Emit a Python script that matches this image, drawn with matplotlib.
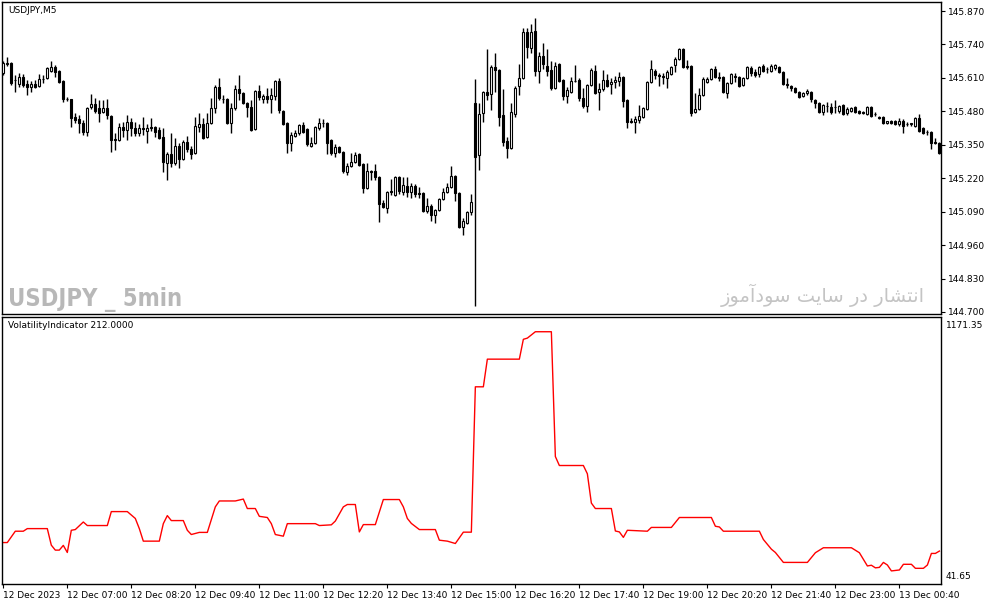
import matplotlib
matplotlib.use('Agg')
import matplotlib.pyplot as plt
import numpy as np

# USDJPY M5 candles
opens = [
    145.629, 145.664, 145.668, 145.602, 145.586, 145.613, 145.586, 145.575, 145.586, 145.578,
    145.606, 145.610, 145.637, 145.652, 145.637, 145.598, 145.528, 145.528, 145.458, 145.450,
    145.435, 145.400, 145.497, 145.508, 145.493, 145.477, 145.493, 145.462, 145.372, 145.368,
    145.419, 145.407, 145.438, 145.415, 145.396, 145.415, 145.403, 145.419, 145.419, 145.407,
    145.380, 145.279, 145.314, 145.279, 145.345, 145.294, 145.361, 145.333, 145.318, 145.419,
    145.431, 145.380, 145.435, 145.493, 145.575, 145.528, 145.528, 145.435, 145.493, 145.567,
    145.551, 145.512, 145.497, 145.411, 145.559, 145.528, 145.540, 145.528, 145.540, 145.598,
    145.481, 145.435, 145.357, 145.384, 145.396, 145.427, 145.411, 145.345, 145.357, 145.415,
    145.435, 145.435, 145.368, 145.318, 145.341, 145.322, 145.244, 145.267, 145.283, 145.314,
    145.275, 145.182, 145.248, 145.248, 145.224, 145.123, 145.104, 145.170, 145.154, 145.224,
    145.166, 145.189, 145.166, 145.189, 145.162, 145.162, 145.092, 145.112, 145.077, 145.096,
    145.139, 145.166, 145.186, 145.228, 145.162, 145.030, 145.046, 145.088, 145.512, 145.310,
    145.473, 145.555, 145.547, 145.652, 145.641, 145.466, 145.365, 145.337, 145.470, 145.578,
    145.610, 145.789, 145.726, 145.792, 145.637, 145.695, 145.656, 145.641, 145.571, 145.664,
    145.602, 145.540, 145.555, 145.598, 145.602, 145.532, 145.501, 145.582, 145.637, 145.555,
    145.567, 145.602, 145.586, 145.594, 145.598, 145.613, 145.524, 145.442, 145.438, 145.446,
    145.458, 145.489, 145.594, 145.637, 145.621, 145.617, 145.610, 145.625, 145.660, 145.683,
    145.722, 145.656, 145.656, 145.477, 145.489, 145.543, 145.594, 145.606, 145.645, 145.613,
    145.613, 145.551, 145.590, 145.617, 145.613, 145.582, 145.610, 145.648, 145.633, 145.625,
    145.656, 145.645, 145.637, 145.648, 145.652, 145.633, 145.586, 145.578, 145.571, 145.555,
    145.540, 145.551, 145.555, 145.524, 145.512, 145.477, 145.501, 145.497, 145.497, 145.481,
    145.505, 145.473, 145.481, 145.497, 145.481, 145.477, 145.470, 145.497, 145.470, 145.458,
    145.458, 145.435, 145.442, 145.442, 145.431, 145.442, 145.431, 145.431, 145.423, 145.454,
    145.415, 145.400, 145.400, 145.361, 145.357,
]
highs = [
    145.676, 145.691, 145.672, 145.621, 145.629, 145.625, 145.602, 145.598, 145.602, 145.625,
    145.621, 145.652, 145.676, 145.660, 145.641, 145.602, 145.536, 145.528, 145.473, 145.466,
    145.446, 145.497, 145.547, 145.532, 145.524, 145.524, 145.528, 145.466, 145.396, 145.435,
    145.438, 145.466, 145.454, 145.438, 145.431, 145.458, 145.431, 145.454, 145.423, 145.419,
    145.415, 145.322, 145.396, 145.376, 145.357, 145.368, 145.384, 145.345, 145.458, 145.473,
    145.454, 145.473, 145.532, 145.582, 145.610, 145.543, 145.532, 145.512, 145.582, 145.621,
    145.555, 145.516, 145.524, 145.563, 145.582, 145.547, 145.571, 145.571, 145.602, 145.610,
    145.485, 145.438, 145.400, 145.407, 145.431, 145.438, 145.415, 145.380, 145.423, 145.454,
    145.450, 145.438, 145.372, 145.353, 145.345, 145.326, 145.279, 145.318, 145.322, 145.318,
    145.279, 145.279, 145.252, 145.275, 145.228, 145.135, 145.170, 145.217, 145.228, 145.228,
    145.224, 145.224, 145.201, 145.197, 145.186, 145.166, 145.143, 145.119, 145.100, 145.143,
    145.182, 145.201, 145.267, 145.232, 145.166, 145.065, 145.092, 145.158, 145.606, 145.512,
    145.559, 145.722, 145.660, 145.707, 145.645, 145.567, 145.380, 145.512, 145.578, 145.664,
    145.804, 145.804, 145.820, 145.843, 145.711, 145.746, 145.722, 145.676, 145.672, 145.668,
    145.606, 145.575, 145.613, 145.660, 145.610, 145.571, 145.586, 145.648, 145.660, 145.590,
    145.641, 145.625, 145.610, 145.617, 145.633, 145.617, 145.528, 145.454, 145.462, 145.505,
    145.497, 145.598, 145.680, 145.645, 145.629, 145.629, 145.641, 145.656, 145.691, 145.726,
    145.726, 145.680, 145.660, 145.551, 145.571, 145.613, 145.613, 145.648, 145.656, 145.633,
    145.617, 145.594, 145.629, 145.629, 145.617, 145.613, 145.656, 145.656, 145.645, 145.656,
    145.664, 145.652, 145.664, 145.664, 145.656, 145.637, 145.610, 145.582, 145.575, 145.559,
    145.555, 145.567, 145.559, 145.528, 145.516, 145.508, 145.516, 145.512, 145.524, 145.505,
    145.508, 145.497, 145.497, 145.501, 145.485, 145.481, 145.501, 145.501, 145.477, 145.462,
    145.462, 145.442, 145.446, 145.446, 145.454, 145.450, 145.438, 145.435, 145.458, 145.470,
    145.419, 145.407, 145.403, 145.376, 145.361,
]
lows = [
    145.621, 145.656, 145.582, 145.555, 145.575, 145.575, 145.543, 145.555, 145.571, 145.575,
    145.590, 145.606, 145.633, 145.613, 145.590, 145.516, 145.520, 145.419, 145.435, 145.396,
    145.388, 145.384, 145.489, 145.473, 145.438, 145.473, 145.450, 145.322, 145.329, 145.365,
    145.380, 145.368, 145.384, 145.384, 145.384, 145.388, 145.357, 145.403, 145.380, 145.372,
    145.244, 145.213, 145.263, 145.271, 145.259, 145.291, 145.322, 145.294, 145.314, 145.400,
    145.372, 145.376, 145.431, 145.473, 145.524, 145.512, 145.431, 145.396, 145.485, 145.524,
    145.508, 145.458, 145.403, 145.407, 145.524, 145.512, 145.512, 145.473, 145.524, 145.473,
    145.427, 145.318, 145.326, 145.380, 145.388, 145.396, 145.345, 145.341, 145.353, 145.407,
    145.419, 145.314, 145.310, 145.302, 145.318, 145.240, 145.232, 145.263, 145.279, 145.267,
    145.162, 145.178, 145.213, 145.213, 145.049, 145.104, 145.084, 145.154, 145.151, 145.158,
    145.154, 145.147, 145.143, 145.147, 145.143, 145.088, 145.084, 145.053, 145.046, 145.092,
    145.135, 145.162, 145.182, 145.131, 145.026, 144.999, 145.042, 145.077, 144.723, 145.252,
    145.438, 145.524, 145.485, 145.555, 145.423, 145.345, 145.298, 145.333, 145.458, 145.543,
    145.606, 145.687, 145.707, 145.617, 145.590, 145.645, 145.617, 145.563, 145.567, 145.594,
    145.524, 145.512, 145.551, 145.594, 145.520, 145.493, 145.477, 145.578, 145.547, 145.485,
    145.559, 145.575, 145.547, 145.571, 145.578, 145.497, 145.415, 145.435, 145.396, 145.435,
    145.454, 145.485, 145.590, 145.606, 145.578, 145.586, 145.571, 145.621, 145.633, 145.680,
    145.648, 145.645, 145.462, 145.473, 145.485, 145.540, 145.590, 145.602, 145.610, 145.598,
    145.551, 145.532, 145.586, 145.594, 145.575, 145.578, 145.606, 145.617, 145.613, 145.613,
    145.633, 145.629, 145.633, 145.641, 145.629, 145.582, 145.571, 145.559, 145.551, 145.532,
    145.536, 145.543, 145.516, 145.493, 145.473, 145.466, 145.477, 145.470, 145.473, 145.473,
    145.466, 145.466, 145.477, 145.473, 145.470, 145.470, 145.466, 145.458, 145.462, 145.450,
    145.431, 145.431, 145.431, 145.427, 145.423, 145.396, 145.423, 145.423, 145.419, 145.400,
    145.392, 145.388, 145.333, 145.353, 145.314,
]
closes = [
    145.668, 145.668, 145.590, 145.600, 145.613, 145.582, 145.575, 145.586, 145.575, 145.606,
    145.604, 145.648, 145.652, 145.633, 145.594, 145.528, 145.526, 145.454, 145.446, 145.435,
    145.400, 145.493, 145.508, 145.481, 145.473, 145.493, 145.466, 145.368, 145.370, 145.419,
    145.407, 145.438, 145.415, 145.396, 145.415, 145.413, 145.415, 145.417, 145.400, 145.376,
    145.283, 145.314, 145.279, 145.345, 145.294, 145.361, 145.333, 145.314, 145.423, 145.431,
    145.376, 145.435, 145.493, 145.575, 145.532, 145.526, 145.435, 145.493, 145.567, 145.551,
    145.512, 145.497, 145.407, 145.559, 145.536, 145.540, 145.528, 145.543, 145.598, 145.485,
    145.431, 145.357, 145.388, 145.396, 145.427, 145.400, 145.353, 145.357, 145.419, 145.435,
    145.433, 145.357, 145.318, 145.341, 145.322, 145.248, 145.267, 145.283, 145.310, 145.271,
    145.182, 145.248, 145.246, 145.224, 145.119, 145.108, 145.166, 145.168, 145.224, 145.170,
    145.193, 145.166, 145.189, 145.158, 145.160, 145.092, 145.112, 145.077, 145.096, 145.139,
    145.166, 145.186, 145.228, 145.162, 145.030, 145.053, 145.088, 145.127, 145.302, 145.470,
    145.555, 145.543, 145.652, 145.641, 145.458, 145.361, 145.337, 145.477, 145.571, 145.610,
    145.789, 145.730, 145.789, 145.637, 145.695, 145.664, 145.637, 145.571, 145.656, 145.598,
    145.540, 145.563, 145.598, 145.596, 145.532, 145.501, 145.582, 145.641, 145.551, 145.567,
    145.602, 145.578, 145.594, 145.602, 145.613, 145.520, 145.438, 145.440, 145.450, 145.462,
    145.493, 145.594, 145.645, 145.621, 145.619, 145.615, 145.633, 145.652, 145.683, 145.722,
    145.652, 145.654, 145.473, 145.489, 145.543, 145.606, 145.606, 145.645, 145.613, 145.611,
    145.555, 145.590, 145.625, 145.615, 145.578, 145.610, 145.652, 145.629, 145.621, 145.652,
    145.637, 145.643, 145.656, 145.660, 145.633, 145.586, 145.584, 145.571, 145.555, 145.536,
    145.551, 145.559, 145.528, 145.512, 145.477, 145.505, 145.499, 145.477, 145.495, 145.501,
    145.470, 145.489, 145.493, 145.477, 145.473, 145.473, 145.497, 145.462, 145.468, 145.454,
    145.435, 145.442, 145.435, 145.431, 145.442, 145.423, 145.429, 145.433, 145.454, 145.403,
    145.396, 145.398, 145.357, 145.357, 145.318,
]

# volatility indicator, vertices (bar index, value)
vol_bars = [0, 1, 3, 5, 6, 11, 12, 13, 14, 15, 16, 17, 18, 20, 21, 26, 27, 31, 33, 34,
            35, 39, 40, 41, 42, 45, 46, 47, 49, 51, 53, 54, 58, 60, 61, 63, 64, 66, 67, 68,
            70, 71, 78, 79, 82, 83, 85, 86, 88, 89, 90, 93, 95, 99, 100, 101, 102, 104, 108, 109,
            111, 113, 115, 117, 118, 120, 121, 129, 130, 131, 133, 137, 138, 139, 145, 146, 147, 148, 152, 153,
            154, 155, 156, 161, 162, 167, 169, 177, 178, 179, 180, 189, 190, 192, 193, 195, 201, 203, 205, 212,
            214, 216, 217, 218, 219, 220, 221, 222, 224, 225, 227, 228, 230, 231, 232, 233, 234]
vol_vals = [217, 217, 265, 265, 276, 276, 206, 185, 185, 205, 175, 269, 272, 304, 289, 289, 348, 348, 319, 276,
            223, 223, 297, 331, 310, 310, 269, 251, 260, 260, 368, 393, 393, 401, 361, 361, 328, 323, 297, 251,
            244, 297, 297, 289, 292, 308, 368, 378, 378, 262, 293, 293, 399, 399, 368, 319, 298, 272, 272, 227,
            223, 213, 261, 261, 876, 876, 993, 993, 1077, 1082, 1109, 1109, 581, 543, 543, 508, 384, 361, 361, 266,
            262, 239, 269, 265, 281, 281, 323, 323, 286, 283, 265, 265, 230, 189, 175, 133, 133, 174, 195, 195,
            174, 118, 121, 110, 112, 133, 122, 97, 101, 125, 125, 108, 108, 122, 171, 171, 181]

price_ticks = [145.870, 145.740, 145.610, 145.480, 145.350, 145.220, 145.090, 144.960, 144.830, 144.700]
time_bars = [0, 16, 32, 48, 64, 80, 96, 112, 128, 144, 160, 176, 192, 208, 224]
time_labels = ['12 Dec 2023', '12 Dec 07:00', '12 Dec 08:20', '12 Dec 09:40', '12 Dec 11:00',
               '12 Dec 12:20', '12 Dec 13:40', '12 Dec 15:00', '12 Dec 16:20', '12 Dec 17:40',
               '12 Dec 19:00', '12 Dec 20:20', '12 Dec 21:40', '12 Dec 23:00', '13 Dec 00:40']
vol_max = 1171.35
vol_min = 41.65

# Persian watermark "انتشار در سایت سودآموز", written in visual order with
# presentation forms since matplotlib does no Arabic shaping
fa_text = ('\uFEAF\uFEEE\uFEE3\uFE81\uFEA9\uFEEE\uFEB3 '
           '\uFE96\uFBFE\uFE8E\uFEB3 '
           '\uFEAD\uFEA9 '
           '\uFEAD\uFE8E\uFEB8\uFE98\uFEE7\uFE8D')

W, H = 987, 605
fig = plt.figure(figsize=(W / 100, H / 100), dpi=100)
fig.patch.set_facecolor('white')
ax = fig.add_axes([2 / W, 1 - 314 / H, 939 / W, 312 / H])
ax2 = fig.add_axes([2 / W, 1 - 584 / H, 939 / W, 267 / H])

o = np.array(opens)
h = np.array(highs)
l = np.array(lows)
c = np.array(closes)
x = np.arange(len(c))
up = c > o

ax.vlines(x, l, h, color='black', linewidth=1, zorder=2)
ax.bar(x, np.maximum(np.abs(c - o), 0.0008), bottom=np.minimum(o, c), width=0.5,
       color=np.where(up, 'white', 'black'), edgecolor='black', linewidth=0.8, zorder=3)

ax.set_xlim(-0.325, 234.4)
ax.set_ylim(144.692, 145.905)
ax.set_xticks([])
ax.yaxis.tick_right()
ax.set_yticks(price_ticks)
ax.set_yticklabels(['%.3f' % p for p in price_ticks])
ax.tick_params(axis='y', length=3, width=0.8, labelsize=6.5, pad=2)

ax.text(0.0065, 0.988, 'USDJPY,M5', transform=ax.transAxes, fontsize=6.5,
        va='top', ha='left')
ax.text(0.0065, 0.026, 'USDJPY _ 5min', transform=ax.transAxes,
        family=['DejaVu Sans'], fontstretch='condensed', fontweight='bold',
        fontsize=17, color='#b8b8b8', va='baseline', ha='left')
ax.text(0.983, 0.04, fa_text, transform=ax.transAxes, family=['DejaVu Sans'],
        fontsize=14, color='#c4c4c4', va='baseline', ha='right')

# indicator window
ax2.plot(vol_bars, vol_vals, color='red', linewidth=1)
ax2.set_xlim(-0.325, 234.4)
ax2.set_ylim(vol_min, vol_max)
ax2.set_yticks([])
ax2.set_xticks(time_bars)
ax2.set_xticklabels(time_labels, ha='left')
ax2.tick_params(axis='x', length=3, width=0.8, labelsize=6.5, pad=2)
ax2.text(0.0065, 0.985, 'VolatilityIndicator 212.0000', transform=ax2.transAxes,
         fontsize=6.5, va='top', ha='left')
ax2.text(1.005, 0.985, '%.2f' % vol_max, transform=ax2.transAxes, fontsize=6.5,
         va='top', ha='left')
ax2.text(1.005, 0.01, '%.2f' % vol_min, transform=ax2.transAxes, fontsize=6.5,
         va='bottom', ha='left')

for a in (ax, ax2):
    for s in a.spines.values():
        s.set_linewidth(1)
        s.set_color('black')

fig.savefig('out.png', dpi=100, facecolor='white')
